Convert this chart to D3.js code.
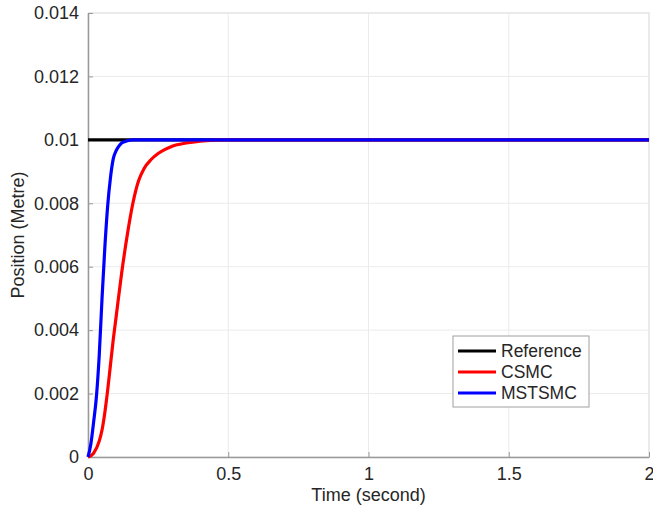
<!DOCTYPE html>
<html><head><meta charset="utf-8">
<script src="https://cdn.jsdelivr.net/npm/d3@7"></script>
<style>body{margin:0;background:#fff}svg{display:block}text{font-family:"Liberation Sans",Arial,sans-serif;fill:#262626}</style>
</head><body>
<script>
const xTicks = [0, 0.5, 1, 1.5, 2];
const xTickLabels = ["0", "0.5", "1", "1.5", "2"];
const yTicks = [0, 0.002, 0.004, 0.006, 0.008, 0.01, 0.012, 0.014];
const yTickLabels = ["0", "0.002", "0.004", "0.006", "0.008", "0.01", "0.012", "0.014"];
const seriesNames = ["Reference", "CSMC", "MSTSMC"];
const seriesColors = ["#000000", "#ff0000", "#0000ff"];
const refT = [0, 2];
const refV = [0.01, 0.01];
const csmcT = [0, 0.02, 0.04, 0.05, 0.06, 0.07, 0.08, 0.09, 0.10, 0.12, 0.14, 0.16, 0.18, 0.20, 0.225, 0.25, 0.275, 0.30, 0.35, 0.40, 0.45, 0.5, 2];
const csmcV = [0, 0.00012, 0.0005, 0.00085, 0.0014, 0.0021, 0.0029, 0.0037, 0.0044, 0.0058, 0.0070, 0.0080, 0.0087, 0.0091, 0.00938, 0.00957, 0.0097, 0.0098, 0.0099, 0.00996, 0.00999, 0.01, 0.01];
const mstT = [0, 0.01, 0.02, 0.03, 0.04, 0.05, 0.06, 0.07, 0.08, 0.09, 0.10, 0.11, 0.12, 0.14, 0.16, 2];
const mstV = [0, 0.0004, 0.0011, 0.0019, 0.0032, 0.0050, 0.0066, 0.0079, 0.0088, 0.0094, 0.00965, 0.0098, 0.0099, 0.00997, 0.01, 0.01];

const W = 653, H = 513;
const m = {l: 88, r: 4, t: 13, b: 56};
const svg = d3.select("body").append("svg").attr("width", W).attr("height", H);
const x = d3.scaleLinear().domain([0, 2]).range([m.l, W - m.r]);
const y = d3.scaleLinear().domain([0, 0.014]).range([H - m.b, m.t]);

// grid
const g = svg.append("g");
g.selectAll("line.gx").data(xTicks).join("line")
  .attr("x1", d => x(d)).attr("x2", d => x(d)).attr("y1", y(0)).attr("y2", y(0.014))
  .attr("stroke", "#ebebeb").attr("stroke-width", 1);
g.selectAll("line.gy").data(yTicks).join("line")
  .attr("x1", x(0)).attr("x2", x(2)).attr("y1", d => y(d)).attr("y2", d => y(d))
  .attr("stroke", "#ebebeb").attr("stroke-width", 1);
// top/right frame
svg.append("path").attr("d", `M${x(0)},${y(0.014)}H${x(2)}V${y(0)}`).attr("fill", "none").attr("stroke", "#e6e6e6").attr("stroke-width", 1.5);

// axes
const xAxis = d3.axisBottom(x).tickValues(xTicks).tickFormat((d, i) => xTickLabels[i]).tickSizeInner(-5).tickSizeOuter(0).tickPadding(10);
const yAxis = d3.axisLeft(y).tickValues(yTicks).tickFormat((d, i) => yTickLabels[i]).tickSizeInner(-5).tickSizeOuter(0).tickPadding(9);
const ax = svg.append("g").attr("transform", `translate(0,${y(0)})`).call(xAxis);
const ay = svg.append("g").attr("transform", `translate(${x(0)},0)`).call(yAxis);
[ax, ay].forEach(a => {
  a.select(".domain").attr("stroke", "#999").attr("stroke-width", 1.5);
  a.selectAll(".tick line").attr("stroke", "#999");
  a.selectAll("text").style("font-size", "18px").attr("fill", "#262626").style("font-family", '"Liberation Sans",Arial,sans-serif');
});

// lines
const line = d3.line().x(d => x(d[0])).y(d => y(d[1])).curve(d3.curveMonotoneX);
const data = [d3.zip(refT, refV), d3.zip(csmcT, csmcV), d3.zip(mstT, mstV)];
data.forEach((d, i) => {
  svg.append("path").datum(d).attr("d", line).attr("fill", "none")
    .attr("stroke", seriesColors[i]).attr("stroke-width", 3.2).attr("stroke-linejoin", "round");
});

// axis labels
svg.append("text").attr("x", x(1)).attr("y", 501).attr("text-anchor", "middle").style("font-size", "18px").text("Time (second)");
svg.append("text").attr("transform", `translate(24,${(y(0) + y(0.014)) / 2}) rotate(-90)`).attr("text-anchor", "middle").style("font-size", "18px").text("Position (Metre)");

// legend
const lg = svg.append("g");
lg.append("rect").attr("x", 453).attr("y", 336).attr("width", 136).attr("height", 71)
  .attr("fill", "#fff").attr("stroke", "#a0a0a0").attr("stroke-width", 1);
const rowsY = [351, 372, 393];
seriesNames.forEach((n, i) => {
  lg.append("line").attr("x1", 458).attr("x2", 496).attr("y1", rowsY[i]).attr("y2", rowsY[i])
    .attr("stroke", seriesColors[i]).attr("stroke-width", 3.2);
  lg.append("text").attr("x", 501).attr("y", rowsY[i]).attr("dy", "0.35em").style("font-size", "17.5px").text(n);
});
</script>
</body></html>
